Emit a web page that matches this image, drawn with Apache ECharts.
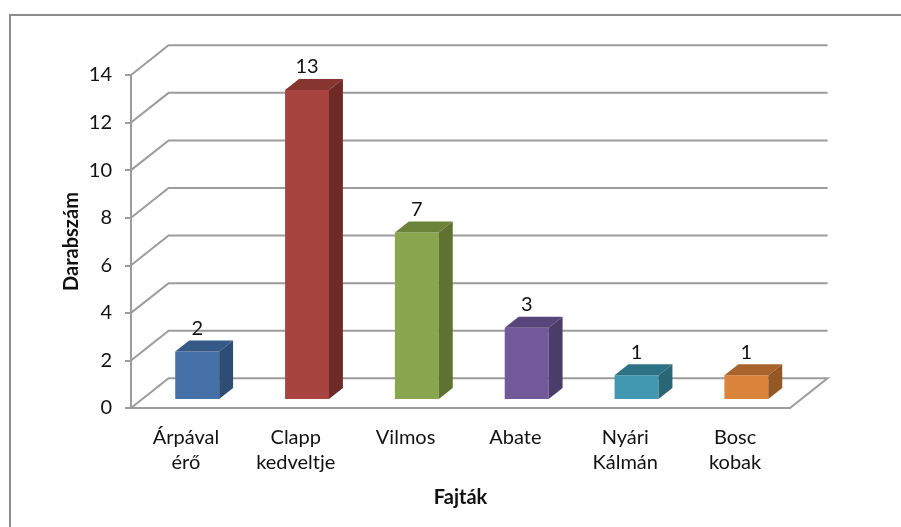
<!DOCTYPE html>
<html>
<head>
<meta charset="utf-8">
<script src="https://cdn.jsdelivr.net/npm/echarts@6/dist/echarts.min.js"></script>
<style>
html, body { margin: 0; padding: 0; background: #fff; }
#chart { width: 901px; height: 527px; }
</style>
</head>
<body>
<div id="chart"></div>
<script>
// data
var categories = ['Árpával\nérő', 'Clapp\nkedveltje', 'Vilmos', 'Abate', 'Nyári\nKálmán', 'Bosc\nkobak'];
var counts = [2, 13, 7, 3, 1, 1];
var yTicks = [0, 2, 4, 6, 8, 10, 12, 14];

// face colours (front / top / side) per bar
var frontColors = ['#4571a8', '#a8443f', '#89a54e', '#72599a', '#4298b0', '#da833a'];
var topColors = ['#365a87', '#86352f', '#6c8439', '#584579', '#2e7385', '#a8642c'];
var sideColors = ['#2e4d75', '#6f2a28', '#5e7331', '#4d3b69', '#2a6676', '#955825'];

// fake 3d: depth vector of the floor, bar sits between D0 and D1 of it
var DX = 37.6, DY = -29.7;
var D0 = 0.3, D1 = 0.67;
var FONT = 'Lato, "Liberation Sans", sans-serif';
var GRID_COLOR = '#9c9c9c';

var chart = echarts.init(document.getElementById('chart'));

function renderWall(params, api) {
    var v = api.value(1);
    var band = api.size([1, 0])[0];
    var p = api.coord([0, v]);
    var left = p[0] - band / 2;
    var right = left + band * categories.length;
    var y = p[1];
    var pts = [[left, y], [left + DX, y + DY], [right + DX, y + DY]];
    if (v === 0) {
        pts.push([right, y]);
    }
    return {
        type: 'polyline',
        shape: { points: pts },
        style: { stroke: GRID_COLOR, lineWidth: 2, fill: null }
    };
}

function renderBar(params, api) {
    var i = api.value(0);
    var v = api.value(1);
    var top = api.coord([i, v]);
    var base = api.coord([i, 0]);
    var band = api.size([1, 0])[0];
    var w = band * 0.4;
    var fx = top[0] - w / 2 + DX * D0;
    var fyBottom = base[1] + DY * D0;
    var fyTop = top[1] + DY * D0;
    var ddx = DX * (D1 - D0), ddy = DY * (D1 - D0);
    return {
        type: 'group',
        children: [
            {
                type: 'rect',
                shape: { x: fx, y: fyTop, width: w, height: fyBottom - fyTop },
                style: { fill: frontColors[i] }
            },
            {
                type: 'polygon',
                shape: { points: [[fx, fyTop], [fx + ddx, fyTop + ddy], [fx + w + ddx, fyTop + ddy], [fx + w, fyTop]] },
                style: { fill: topColors[i] }
            },
            {
                type: 'polygon',
                shape: { points: [[fx + w, fyTop], [fx + w + ddx, fyTop + ddy], [fx + w + ddx, fyBottom + ddy], [fx + w, fyBottom]] },
                style: { fill: sideColors[i] }
            },
            {
                type: 'text',
                x: fx + w / 2,
                y: fyTop + ddy - 12,
                style: {
                    text: String(v),
                    fill: '#111',
                    font: '20px ' + FONT,
                    align: 'center',
                    verticalAlign: 'middle'
                }
            }
        ]
    };
}

chart.setOption({
    animation: false,
    backgroundColor: '#fff',
    graphic: [{
        type: 'rect',
        shape: { x: 10, y: 15, width: 1000, height: 700 },
        style: { fill: null, stroke: '#8c8c8c', lineWidth: 2 },
        silent: true
    }],
    grid: { left: 131, right: 111, top: 75, bottom: 119 },
    xAxis: {
        type: 'category',
        data: categories,
        name: 'Fajták',
        nameLocation: 'middle',
        nameGap: 80,
        nameTextStyle: { fontFamily: FONT, fontSize: 20, fontWeight: 'bold', color: '#111' },
        axisLine: { show: true, lineStyle: { color: GRID_COLOR, width: 2 } },
        axisTick: { show: false },
        axisLabel: {
            margin: 17,
            interval: 0,
            fontFamily: FONT,
            fontSize: 20,
            lineHeight: 25,
            color: '#111'
        }
    },
    yAxis: {
        type: 'value',
        min: 0,
        max: 14,
        interval: 2,
        name: 'Darabszám',
        nameLocation: 'middle',
        nameGap: 49,
        nameMoveOverlap: false,
        nameRotate: 90,
        nameTextStyle: { fontFamily: FONT, fontSize: 20, fontWeight: 'bold', color: '#111' },
        axisLine: { show: true, lineStyle: { color: GRID_COLOR, width: 2 } },
        axisTick: { show: true, inside: false, length: 6, lineStyle: { color: GRID_COLOR, width: 2 } },
        axisLabel: { margin: 19, fontFamily: FONT, fontSize: 20, color: '#111' },
        splitLine: { show: false }
    },
    series: [
        {
            type: 'custom',
            clip: false,
            z: 1,
            silent: true,
            renderItem: renderWall,
            encode: { x: 0, y: 1 },
            data: yTicks.map(function (v) { return [0, v]; })
        },
        {
            type: 'custom',
            clip: false,
            z: 3,
            renderItem: renderBar,
            encode: { x: 0, y: 1 },
            data: counts.map(function (v, i) { return [i, v]; })
        }
    ]
});
</script>
</body>
</html>
